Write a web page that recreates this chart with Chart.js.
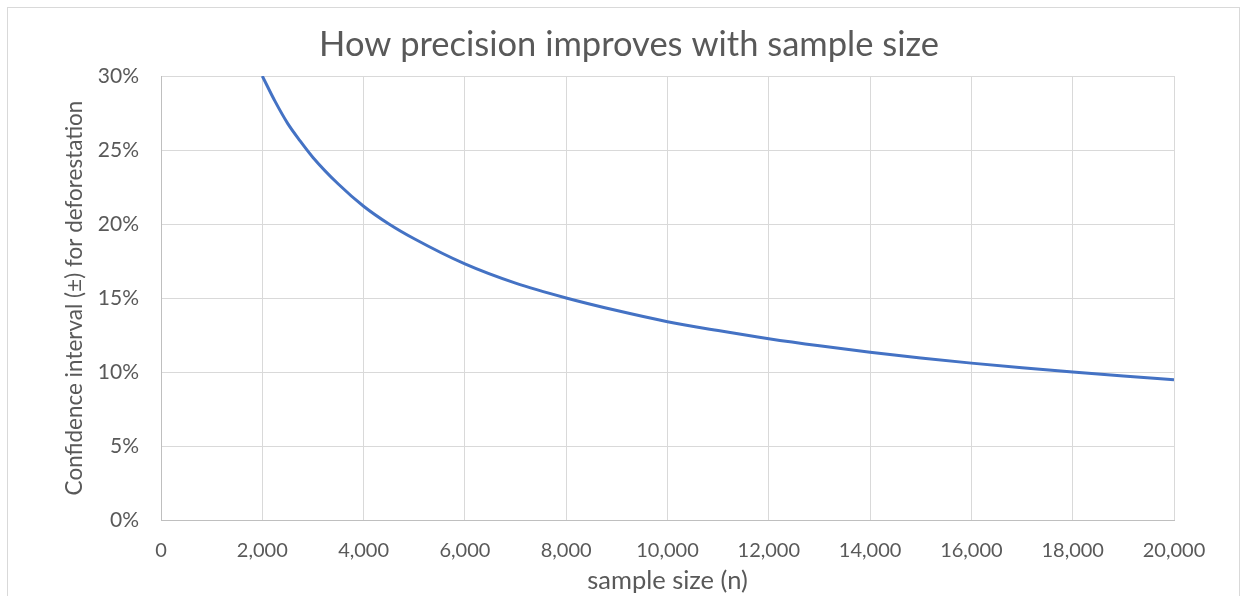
<!DOCTYPE html>
<html>
<head>
<meta charset="utf-8">
<script src="https://cdn.jsdelivr.net/npm/chart.js@4/dist/chart.umd.min.js"></script>
<style>
  html, body { margin: 0; padding: 0; background: #fff; overflow: hidden; }
  #wrap { position: relative; width: 1244px; height: 596px; }
  #frame { position: absolute; left: 7px; top: 7px; width: 1233px; height: 620px; border: 1px solid #d9d9d9; box-sizing: border-box; }
  canvas { position: absolute; left: 0; top: 0; }
</style>
</head>
<body>
<div id="wrap">
  <div id="frame"></div>
  <canvas id="precisionChart" width="1244" height="596"></canvas>
</div>
<script>
// sample size (n) and the confidence interval (%)
const sampleSizes = [2000, 2250, 2500, 2750, 3000, 3500, 4000, 4500, 5000, 6000, 7000, 8000,
                     9000, 10000, 11000, 12000, 13000, 14000, 15000, 16000, 17000, 18000, 19000, 20000];
const confidencePct = [30.0, 28.3, 26.8, 25.6, 24.5, 22.7, 21.2, 20.0, 19.0, 17.3, 16.0, 15.0,
                       14.15, 13.4, 12.8, 12.25, 11.77, 11.34, 10.95, 10.6, 10.29, 10.0, 9.73, 9.48];

const chartTitle = 'How precision improves with sample size';
const xTitle = 'sample size (n)';
const yTitle = 'Confidence interval (±) for deforestation';

const textColor = '#595959';
const gridColor = '#d9d9d9';
const axisColor = '#bfbfbf';
const fontFamily = 'Lato, "Open Sans", sans-serif';

const points = sampleSizes.map((n, i) => ({ x: n, y: confidencePct[i] }));

new Chart(document.getElementById('precisionChart'), {
    type: 'scatter',
    data: {
        datasets: [{
            data: points,
            showLine: true,
            borderColor: '#4472C4',
            borderWidth: 3,
            pointRadius: 0,
            cubicInterpolationMode: 'monotone',
            fill: false
        }]
    },
    options: {
        responsive: false,
        animation: false,
        layout: { padding: { left: 14, right: 0, top: 0, bottom: 0 } },
        plugins: {
            legend: { display: false },
            tooltip: { enabled: false },
            title: {
                display: true,
                text: chartTitle,
                color: textColor,
                font: { family: fontFamily, size: 34.5, weight: 'normal' },
                padding: { top: 24, bottom: 10.6 }
            }
        },
        scales: {
            x: {
                type: 'linear',
                min: 0,
                max: 20000,
                grid: { color: gridColor, drawTicks: false },
                border: { color: axisColor, width: 1 },
                ticks: {
                    stepSize: 2000,
                    padding: 19,
                    color: textColor,
                    maxRotation: 0,
                    font: { family: fontFamily, size: 20 },
                    callback: v => v.toLocaleString('en-US')
                },
                title: {
                    display: true,
                    text: xTitle,
                    color: textColor,
                    font: { family: fontFamily, size: 25.5 },
                    padding: { top: 0, bottom: 0 }
                },
                afterFit: s => { s.height = 76; }
            },
            y: {
                min: 0,
                max: 30,
                grid: { color: gridColor, drawTicks: false },
                border: { color: axisColor, width: 1 },
                ticks: {
                    stepSize: 5,
                    padding: 22,
                    color: textColor,
                    font: { family: fontFamily, size: 21 },
                    callback: v => v + '%'
                },
                title: {
                    display: true,
                    text: yTitle,
                    color: textColor,
                    font: { family: fontFamily, size: 22.5 },
                    padding: { top: 47, bottom: 0 }
                },
                afterFit: s => { s.width = 147; }
            },
            // empty axis that only keeps room on the right
            yRight: {
                position: 'right',
                display: true,
                grid: { display: false, drawTicks: false },
                border: { display: false },
                ticks: { display: false },
                afterFit: s => { s.width = 70; }
            }
        }
    }
});
</script>
</body>
</html>
